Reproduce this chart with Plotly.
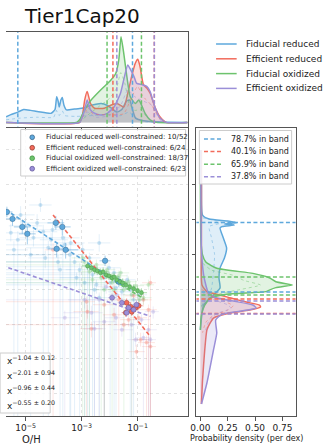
import plotly.graph_objects as go

# ------------------------------------------------------------------ data
models = ["Fiducial reduced", "Efficient reduced", "Fiducial oxidized", "Efficient oxidized"]
colors = ["#5ea8dc", "#f26b5b", "#6dc36d", "#9b8fd8"]
edge_colors = ["#2c5a80", "#8a3226", "#3f8f3f", "#574c93"]

wc_counts = [10, 6, 18, 6]
total_counts = [52, 24, 37, 23]
band_pct = [78.7, 40.1, 65.9, 37.8]

# power-law fits: log10(y) = icpt + slope * log10(O/H)
fit_slope = [-1.04, -2.01, -0.96, -0.55]
fit_slope_err = [0.12, 0.94, 0.44, 0.20]
fit_icpt = [-9.38, -11.81, -9.29, -9.856]
fit_lx_range = [(-6.5, -1.5), (-4.02, -0.54), (-2.79, -0.79), (-6.5, -0.54)]

# band edges (log10 O/H for top panel, log10 y for side panel)
oh_band_lo = [-5.28, -1.88, -2.09, -1.74]
oh_band_hi = [-1.18, -0.40, -0.86, -0.40]
y_band_top = [-4.17, -8.56, -7.30, -8.68]
y_band_bottom = [-8.16, -9.40, -8.33, -9.43]

# points: (log10 O/H, log10 y, err_x_lo, err_x_hi, err_y_lo, err_y_hi) in dex
blue_wc = [(-5.67, -3.56, 0.2, 0.2, 0.3, 0.3), (-5.47, -3.96, 0.3, 0.3, 0.4, 0.3),
           (-5.12, -4.42, 0.3, 0.3, 0.4, 0.4), (-4.94, -4.82, 0.3, 0.3, 0.6, 0.4),
           (-3.92, -4.19, 0.3, 0.3, 0.4, 0.4), (-3.69, -4.42, 0.3, 0.3, 0.5, 0.4),
           (-3.89, -5.68, 0.3, 0.3, 0.5, 0.4), (-3.57, -5.74, 0.45, 0.45, 0.5, 0.4),
           (-2.16, -6.37, 0.2, 0.2, 0.3, 0.3), (-1.67, -7.57, 0.2, 0.2, 0.3, 0.3)]
blue_faint = [(-4.59, -4.19, 0.5, 0.5, 0.5, 0.5), (-4.19, -5.62, 0.8, 0.6, 12, 0.4),
              (-2.37, -5.34, 0.4, 0.4, 0.5, 0.5), (-2.37, -8.49, 0.3, 0.3, 12, 0.3),
              (-2.79, -6.71, 8, 0.3, 12, 0.3), (-3.25, -6.43, 8, 0.4, 12, 0.3),
              (-3.07, -6.88, 0.5, 0.4, 12, 0.4), (-3.42, -6.02, 8, 0.5, 12, 0.4),
              (-2.61, -7.17, 8, 0.4, 12, 0.3), (-3.60, -5.45, 8, 0.6, 0.5, 0.5),
              (-5.53, -4.76, 0.6, 0.6, 0.5, 0.5), (-5.28, -5.16, 0.5, 0.5, 12, 0.5),
              (-4.72, -5.05, 0.5, 0.7, 0.5, 0.5), (-4.37, -4.70, 0.5, 0.5, 12, 0.4),
              (-4.09, -5.16, 0.4, 0.6, 0.6, 0.4), (-2.19, -7.34, 8, 0.3, 12, 0.3),
              (-1.98, -7.63, 8, 0.4, 12, 0.3), (-1.77, -7.92, 0.5, 0.4, 12, 0.3),
              (-1.56, -8.15, 0.5, 0.4, 0.5, 0.3), (-2.47, -7.75, 8, 0.4, 0.5, 0.3),
              (-2.89, -7.63, 0.6, 0.5, 12, 0.3), (-3.18, -7.34, 0.6, 0.5, 0.5, 0.3),
              (-1.14, -8.61, 0.4, 0.4, 12, 0.3), (-5.00, -4.36, 0.6, 0.6, 0.6, 0.6),
              (-4.47, -3.16, 0.4, 0.4, 0.4, 0.4), (-3.67, -5.05, 0.6, 0.6, 12, 0.4),
              (-3.84, -6.43, 8, 0.4, 0.5, 0.4), (-5.42, -5.74, 0.5, 0.5, 12, 0.5),
              (-4.82, -6.02, 8, 0.5, 12, 0.4), (-4.30, -6.20, 0.6, 0.6, 0.6, 0.4),
              (-3.39, -5.34, 0.5, 0.5, 12, 0.4), (-2.96, -5.74, 0.5, 0.4, 0.5, 0.4),
              (-2.72, -6.20, 0.4, 0.4, 12, 0.3), (-2.02, -6.77, 0.4, 0.4, 0.4, 0.3),
              (-1.84, -7.06, 8, 0.3, 12, 0.3), (-1.37, -7.46, 0.4, 0.3, 0.4, 0.3),
              (-1.26, -8.03, 0.3, 0.3, 12, 0.3), (-0.96, -8.32, 0.3, 0.3, 0.4, 0.3),
              (-5.18, -3.73, 0.5, 0.5, 0.5, 0.5), (-4.04, -4.59, 0.5, 0.5, 0.5, 0.5),
              (-3.77, -6.88, 8, 0.4, 12, 0.3), (-2.54, -8.03, 0.5, 0.4, 12, 0.3)]

red_wc = [(-1.39, -8.78, 0.15, 0.15, 0.25, 0.25), (-1.25, -9.01, 0.15, 0.15, 0.25, 0.25),
          (-1.07, -9.06, 0.15, 0.15, 0.25, 0.25), (-0.96, -8.95, 0.15, 0.15, 0.25, 0.25),
          (-1.42, -9.35, 0.15, 0.15, 0.25, 0.25), (-1.21, -9.29, 0.15, 0.15, 0.25, 0.25)]
red_faint = [(-0.54, -7.63, 0.3, 0.2, 12, 0.4), (-2.79, -9.29, 0.5, 0.4, 0.4, 0.4),
             (-2.82, -8.72, 8, 0.3, 12, 0.3), (-2.65, -10.27, 0.4, 0.4, 0.5, 0.4),
             (-1.04, -11.59, 0.3, 0.3, 0.4, 0.4), (-0.68, -11.07, 0.3, 0.3, 12, 0.4),
             (-0.54, -11.30, 0.3, 0.2, 12, 0.4), (-0.79, -8.61, 0.3, 0.3, 0.4, 0.4),
             (-1.67, -8.61, 0.4, 0.3, 12, 0.3), (-0.96, -9.64, 0.3, 0.3, 0.4, 0.4),
             (-1.32, -9.75, 0.3, 0.3, 0.4, 0.3), (-0.61, -9.18, 0.3, 0.3, 12, 0.3),
             (-1.14, -8.38, 0.3, 0.3, 0.3, 0.3), (-1.84, -9.47, 0.4, 0.3, 0.4, 0.4),
             (-2.19, -8.89, 0.4, 0.4, 12, 0.3), (-4.02, -5.74, 0.3, 0.4, 12, 0.4),
             (-1.49, -10.04, 8, 0.3, 0.4, 0.3), (-0.89, -10.90, 0.3, 0.3, 0.4, 0.4)]

green_wc = [(-2.79, -6.66, 0.2, 0.2, 0.25, 0.25), (-2.65, -6.77, 0.2, 0.2, 0.25, 0.25),
            (-2.54, -6.88, 0.2, 0.2, 0.25, 0.25), (-2.44, -6.94, 0.2, 0.2, 0.25, 0.25),
            (-2.33, -7.06, 0.2, 0.2, 0.25, 0.25), (-2.23, -7.00, 0.2, 0.2, 0.25, 0.25),
            (-2.12, -7.17, 0.2, 0.2, 0.25, 0.25), (-2.02, -7.23, 0.2, 0.2, 0.25, 0.25),
            (-1.91, -7.34, 0.2, 0.2, 0.25, 0.25), (-1.84, -7.29, 0.2, 0.2, 0.25, 0.25),
            (-1.74, -7.46, 0.2, 0.2, 0.25, 0.25), (-1.63, -7.57, 0.2, 0.2, 0.25, 0.25),
            (-1.53, -7.63, 0.2, 0.2, 0.25, 0.25), (-1.42, -7.75, 0.2, 0.2, 0.25, 0.25),
            (-1.28, -7.86, 0.2, 0.2, 0.25, 0.25), (-1.14, -7.97, 0.2, 0.2, 0.25, 0.25),
            (-1.00, -8.09, 0.2, 0.2, 0.25, 0.25), (-0.86, -8.20, 0.2, 0.2, 0.25, 0.25)]
green_faint = [(-2.89, -6.43, 8, 0.3, 12, 0.3), (-2.72, -7.00, 0.4, 0.4, 12, 0.3),
               (-2.47, -6.60, 8, 0.3, 0.4, 0.3), (-2.30, -7.34, 0.4, 0.3, 12, 0.3),
               (-2.09, -6.88, 0.3, 0.3, 0.4, 0.3), (-1.91, -7.63, 8, 0.3, 12, 0.3),
               (-1.67, -7.23, 0.3, 0.3, 0.4, 0.3), (-1.49, -8.03, 0.3, 0.3, 12, 0.3),
               (-1.32, -7.57, 0.3, 0.3, 0.4, 0.3), (-1.07, -7.80, 0.3, 0.3, 0.3, 0.3),
               (-0.79, -8.49, 0.3, 0.3, 0.4, 0.3), (-0.61, -7.75, 0.3, 0.2, 0.3, 0.3),
               (-2.19, -8.03, 0.4, 0.4, 12, 0.3), (-2.61, -7.46, 8, 0.4, 0.5, 0.3),
               (-1.84, -8.03, 0.3, 0.3, 0.4, 0.3), (-2.96, -6.20, 0.4, 0.3, 12, 0.3),
               (-0.93, -8.61, 0.3, 0.3, 0.4, 0.3), (-1.21, -8.32, 0.3, 0.3, 12, 0.3),
               (-1.60, -7.06, 0.3, 0.3, 0.3, 0.3)]

purple_wc = [(-1.91, -8.49, 0.15, 0.15, 0.25, 0.25), (-1.56, -8.78, 0.15, 0.15, 0.25, 0.25),
             (-1.32, -9.06, 0.15, 0.15, 0.25, 0.25), (-1.39, -9.35, 0.15, 0.15, 0.25, 0.25),
             (-1.14, -9.18, 0.15, 0.15, 0.25, 0.25), (-1.04, -8.89, 0.15, 0.15, 0.25, 0.25)]
purple_faint = [(-2.54, -10.27, 0.4, 0.4, 12, 0.4), (-2.65, -9.35, 1.0, 0.4, 0.4, 0.4),
                (-0.79, -10.79, 0.3, 0.3, 12, 0.3), (-1.07, -10.90, 0.3, 0.4, 0.4, 0.4),
                (-0.54, -10.90, 0.3, 0.2, 12, 0.3), (-2.12, -7.86, 0.3, 0.3, 0.4, 0.4),
                (-2.37, -8.61, 8, 0.3, 12, 0.3), (-1.77, -9.64, 0.4, 0.3, 0.4, 0.3),
                (-1.21, -10.04, 0.3, 0.3, 12, 0.3), (-0.61, -10.33, 0.3, 0.3, 12, 0.3),
                (-0.86, -9.75, 0.3, 0.3, 0.4, 0.3), (-1.56, -10.33, 0.3, 0.4, 0.4, 0.4),
                (-2.19, -9.87, 0.4, 0.4, 12, 0.4), (-0.44, -9.29, 0.3, 0.2, 0.4, 0.3),
                (-2.89, -8.61, 0.6, 0.5, 0.5, 0.4), (-3.60, -9.64, 0.5, 0.5, 12, 0.4),
                (-1.74, -8.32, 0.3, 0.3, 0.3, 0.3)]

wc_points = [blue_wc, red_wc, green_wc, purple_wc]
faint_points = [blue_faint, red_faint, green_faint, purple_faint]

# marginal density of log10(O/H) (per dex)
blue_oh_lx = [-5.70, -5.53, -5.28, -5.07, -4.82, -4.54, -4.09, -3.95, -3.89, -3.84, -3.80, -3.74,
              -3.69, -3.63, -3.54, -3.25, -3.00, -2.65, -2.30, -2.09, -1.91, -1.74, -1.56, -1.39,
              -1.28, -1.18, -1.07, -0.79, -0.09, 0.79]
blue_oh_d = [0.066, 0.09, 0.12, 0.15, 0.14, 0.125, 0.106, 0.15, 0.30, 0.25, 0.18, 0.26,
             0.29, 0.20, 0.145, 0.155, 0.164, 0.20, 0.22, 0.20, 0.16, 0.12, 0.15, 0.25,
             0.26, 0.15, 0.05, 0.02, 0.005, 0.0]
red_oh_lx = [-5.70, -3.07, -2.96, -2.89, -2.80, -2.68, -2.54, -2.19, -1.96, -1.73, -1.49, -1.32,
             -1.20, -1.08, -0.99, -0.91, -0.79, -0.67, -0.55, -0.38, -0.20, 0.02, 0.79]
red_oh_d = [0.0, 0.0, 0.10, 0.26, 0.36, 0.22, 0.165, 0.165, 0.20, 0.22, 0.18, 0.38,
            0.55, 0.69, 0.735, 0.65, 0.44, 0.40, 0.34, 0.18, 0.066, 0.0, 0.0]
green_oh_lx = [-5.70, -3.18, -3.07, -2.89, -2.66, -2.31, -1.96, -1.78, -1.67, -1.59, -1.49, -1.38,
               -1.26, -1.08, -0.96, -0.88, -0.73, -0.55, -0.33, 0.79]
green_oh_d = [0.0, 0.0, 0.03, 0.145, 0.26, 0.38, 0.49, 0.57, 0.73, 1.0, 0.80, 0.53,
              0.30, 0.22, 0.26, 0.22, 0.106, 0.03, 0.0, 0.0]
purple_oh_lx = [-5.70, -3.07, -2.96, -2.89, -2.80, -2.68, -2.54, -2.31, -2.08, -1.84, -1.61, -1.47,
                -1.35, -1.24, -1.12, -1.03, -0.85, -0.67, -0.55, -0.38, -0.20, 0.02, 0.79]
purple_oh_d = [0.0, 0.0, 0.08, 0.145, 0.26, 0.145, 0.106, 0.086, 0.106, 0.18, 0.34, 0.53,
               0.67, 0.61, 0.53, 0.455, 0.44, 0.42, 0.36, 0.18, 0.05, 0.0, 0.0]
oh_lx = [blue_oh_lx, red_oh_lx, green_oh_lx, purple_oh_lx]
oh_d = [blue_oh_d, red_oh_d, green_oh_d, purple_oh_d]

# well-constrained-only density of log10(O/H)
blue_oh_wc_lx = [-5.70, -5.2, -4.6, -4.0, -3.9, -3.85, -3.8, -3.72, -3.68, -3.6, -3.2, -2.6,
                 -2.1, -1.6, -1.3, -1.1, -0.8, 0.0]
blue_oh_wc_d = [0.03, 0.05, 0.06, 0.06, 0.14, 0.10, 0.08, 0.12, 0.13, 0.08, 0.07, 0.08,
                0.09, 0.08, 0.12, 0.06, 0.01, 0.0]
red_oh_wc_lx = [-3.1, -2.85, -2.8, -2.6, -2.0, -1.5, -1.2, -1.0, -0.8, -0.5, -0.2, 0.0]
red_oh_wc_d = [0.0, 0.12, 0.18, 0.10, 0.09, 0.10, 0.30, 0.42, 0.30, 0.20, 0.04, 0.0]
green_oh_wc_lx = [-3.1, -2.8, -2.4, -2.0, -1.75, -1.6, -1.45, -1.3, -1.1, -0.9, -0.6, -0.35]
green_oh_wc_d = [0.0, 0.08, 0.18, 0.28, 0.40, 0.58, 0.45, 0.22, 0.14, 0.15, 0.04, 0.0]
purple_oh_wc_lx = [-3.1, -2.8, -2.5, -2.0, -1.6, -1.35, -1.1, -0.8, -0.5, -0.2, 0.0]
purple_oh_wc_d = [0.0, 0.12, 0.06, 0.08, 0.20, 0.38, 0.30, 0.25, 0.20, 0.03, 0.0]
oh_wc_lx = [blue_oh_wc_lx, red_oh_wc_lx, green_oh_wc_lx, purple_oh_wc_lx]
oh_wc_d = [blue_oh_wc_d, red_oh_wc_d, green_oh_wc_d, purple_oh_wc_d]

# marginal density of log10(y) (per dex)
blue_y_ly = [0.0, -2.01, -3.74, -3.97, -4.08, -4.18, -4.25, -4.31, -4.40, -4.48, -5.06, -5.63,
             -6.21, -6.78, -7.36, -7.93, -8.33, -8.91, -9.66, -10.34]
blue_y_d = [0.005, 0.01, 0.02, 0.08, 0.25, 0.33, 0.22, 0.31, 0.20, 0.18, 0.21, 0.24,
            0.22, 0.18, 0.17, 0.18, 0.12, 0.03, 0.01, 0.0]
red_y_ly = [0.0, -2.87, -5.75, -7.76, -8.14, -8.33, -8.51, -8.74, -8.91, -9.02, -9.20, -9.37,
            -9.66, -9.94, -10.34, -11.49, -13.22, -14.60]
red_y_d = [0.01, 0.01, 0.01, 0.015, 0.06, 0.18, 0.28, 0.42, 0.54, 0.55, 0.45, 0.27,
           0.12, 0.09, 0.06, 0.04, 0.02, 0.01]
green_y_ly = [0.0, -5.17, -6.03, -6.44, -6.80, -7.09, -7.34, -7.57, -7.76, -7.91, -8.05, -8.14,
              -8.29, -8.52, -8.91, -9.48, -10.34]
green_y_d = [0.0, 0.005, 0.02, 0.05, 0.15, 0.48, 0.63, 0.69, 0.84, 0.69, 0.63, 0.60,
             0.24, 0.09, 0.04, 0.01, 0.0]
purple_y_ly = [0.0, -5.75, -7.18, -7.76, -8.16, -8.45, -8.68, -8.91, -9.08, -9.25, -9.43, -9.77,
               -10.52, -11.49, -13.39, -14.60]
purple_y_d = [0.005, 0.01, 0.03, 0.05, 0.07, 0.12, 0.30, 0.48, 0.51, 0.38, 0.20, 0.14,
              0.15, 0.12, 0.06, 0.01]
y_ly = [blue_y_ly, red_y_ly, green_y_ly, purple_y_ly]
y_d = [blue_y_d, red_y_d, green_y_d, purple_y_d]

blue_y_wc_ly = [-3.9, -4.18, -4.4, -5.0, -6.0, -7.0, -8.0, -8.5, -9.0]
blue_y_wc_d = [0.02, 0.20, 0.08, 0.10, 0.13, 0.12, 0.10, 0.05, 0.01]
red_y_wc_ly = [-8.0, -8.4, -8.7, -8.95, -9.2, -9.5, -9.9, -10.5]
red_y_wc_d = [0.01, 0.10, 0.22, 0.30, 0.25, 0.12, 0.05, 0.02]
green_y_wc_ly = [-6.5, -6.9, -7.2, -7.5, -7.76, -8.0, -8.3, -8.6, -9.0]
green_y_wc_d = [0.02, 0.10, 0.30, 0.40, 0.55, 0.38, 0.15, 0.05, 0.01]
purple_y_wc_ly = [-8.2, -8.6, -8.9, -9.1, -9.4, -9.8, -10.5]
purple_y_wc_d = [0.02, 0.12, 0.25, 0.28, 0.15, 0.08, 0.04]
y_wc_ly = [blue_y_wc_ly, red_y_wc_ly, green_y_wc_ly, purple_y_wc_ly]
y_wc_d = [blue_y_wc_d, red_y_wc_d, green_y_wc_d, purple_y_wc_d]

x_tick_vals = [1e-5, 1e-3, 1e-1]
x_tick_text = ["10<sup>\u22125</sup>", "10<sup>\u22123</sup>", "10<sup>\u22121</sup>"]
dens_tick_vals = [0.0, 0.25, 0.5, 0.75]

# ------------------------------------------------------------------ layout helpers
W, H = 325, 445
FONT = "DejaVu Sans"
FRAME = "#555555"
GRID = "#e2e2e2"


def px(v):
    return v / W


def py(v):
    return 1 - v / H


def rgba(hex_color, a):
    h = hex_color.lstrip("#")
    r, g, b = int(h[0:2], 16), int(h[2:4], 16), int(h[4:6], 16)
    return f"rgba({r},{g},{b},{a})"


def error_segments(points):
    xs, ys = [], []
    for lx, ly, exl, exh, eyl, eyh in points:
        xs += [10 ** (lx - exl), 10 ** (lx + exh), None, 10 ** lx, 10 ** lx, None]
        ys += [10 ** ly, 10 ** ly, None, 10 ** (ly - eyl), 10 ** (ly + eyh), None]
    return xs, ys


fig = go.Figure()

# ------------------------------------------------------------------ main scatter
for i in range(4):
    ex, ey = error_segments(faint_points[i])
    fig.add_trace(go.Scatter(x=ex, y=ey, mode="lines", xaxis="x", yaxis="y",
                             line=dict(color=rgba(colors[i], 0.17), width=1),
                             hoverinfo="skip", showlegend=False))
for i in range(4):
    pts = faint_points[i]
    fig.add_trace(go.Scatter(x=[10 ** p[0] for p in pts], y=[10 ** p[1] for p in pts],
                             mode="markers", xaxis="x", yaxis="y",
                             marker=dict(color=rgba(colors[i], 0.3), size=4, line=dict(width=0)),
                             showlegend=False))

for i in range(4):
    ex, ey = error_segments(wc_points[i])
    fig.add_trace(go.Scatter(x=ex, y=ey, mode="lines", xaxis="x", yaxis="y",
                             line=dict(color=rgba(colors[i], 0.55), width=1),
                             hoverinfo="skip", showlegend=False))

# power-law fits
for i in range(4):
    lx0, lx1 = fit_lx_range[i]
    fx = [10 ** lx0, 10 ** lx1]
    fy = [10 ** (fit_icpt[i] + fit_slope[i] * lx0), 10 ** (fit_icpt[i] + fit_slope[i] * lx1)]
    fig.add_trace(go.Scatter(x=fx, y=fy, mode="lines", xaxis="x", yaxis="y",
                             line=dict(color=colors[i], width=1.6, dash="4px,2.5px"),
                             showlegend=False))

wc_sizes = [5.5, 5, 4, 5]
for i in range(4):
    pts = wc_points[i]
    fig.add_trace(go.Scatter(x=[10 ** p[0] for p in pts], y=[10 ** p[1] for p in pts],
                             mode="markers", xaxis="x", yaxis="y",
                             marker=dict(color=colors[i], size=wc_sizes[i],
                                         line=dict(color=edge_colors[i], width=0.4)),
                             showlegend=False))

# ------------------------------------------------------------------ top marginal (O/H)
for i in range(4):
    fig.add_trace(go.Scatter(x=[10 ** v for v in oh_lx[i]], y=oh_d[i], mode="lines",
                             xaxis="x2", yaxis="y2", fill="tozeroy",
                             fillcolor=rgba(colors[i], 0.2),
                             line=dict(color=colors[i], width=1.5, shape="spline", smoothing=0.5),
                             showlegend=False))
for i in range(4):
    fig.add_trace(go.Scatter(x=[10 ** v for v in oh_wc_lx[i]], y=oh_wc_d[i], mode="lines",
                             xaxis="x2", yaxis="y2",
                             line=dict(color=rgba(colors[i], 0.6), width=0.8, dash="dot",
                                       shape="spline", smoothing=0.5),
                             showlegend=False))
for i in range(4):
    for edge in (oh_band_lo[i], oh_band_hi[i]):
        fig.add_trace(go.Scatter(x=[10 ** edge, 10 ** edge], y=[-1, 2], mode="lines",
                                 xaxis="x2", yaxis="y2",
                                 line=dict(color=colors[i], width=1.5, dash="4px,2.5px"),
                                 showlegend=False))

# ------------------------------------------------------------------ side marginal (y)
for i in range(4):
    fig.add_trace(go.Scatter(x=y_d[i], y=[10 ** v for v in y_ly[i]], mode="lines",
                             xaxis="x3", yaxis="y3", fill="tozerox",
                             fillcolor=rgba(colors[i], 0.2),
                             line=dict(color=colors[i], width=1.5, shape="spline", smoothing=0.5),
                             showlegend=False))
for i in range(4):
    fig.add_trace(go.Scatter(x=y_wc_d[i], y=[10 ** v for v in y_wc_ly[i]], mode="lines",
                             xaxis="x3", yaxis="y3",
                             line=dict(color=rgba(colors[i], 0.6), width=0.8, dash="dot",
                                       shape="spline", smoothing=0.5),
                             showlegend=False))
for i in range(4):
    for edge in (y_band_top[i], y_band_bottom[i]):
        fig.add_trace(go.Scatter(x=[-1, 2], y=[10 ** edge, 10 ** edge], mode="lines",
                                 xaxis="x3", yaxis="y3",
                                 line=dict(color=colors[i], width=1.5, dash="4px,2.5px"),
                                 showlegend=False))

# ------------------------------------------------------------------ axes
main_dom_x = [0, px(185)]
main_dom_y = [py(416), py(128)]
y_range = [-15.287, 1.264]
x_range = [-5.702, 0.789]

common = dict(showline=True, linecolor=FRAME, linewidth=1, zeroline=False,
              tickcolor=FRAME, ticklen=3.5, tickwidth=1,
              tickfont=dict(family=FONT, size=9, color="#222"))

fig.update_layout(
    width=W, height=H, margin=dict(l=0, r=0, t=0, b=0),
    paper_bgcolor="white", plot_bgcolor="white", showlegend=False,
    font=dict(family=FONT, color="#222"),
    xaxis=dict(domain=main_dom_x, type="log", range=x_range, anchor="y",
               tickvals=x_tick_vals, ticktext=x_tick_text, ticks="outside", mirror=True,
               showgrid=True, gridcolor=GRID, griddash="dot", gridwidth=1, **common),
    yaxis=dict(domain=main_dom_y, type="log", range=y_range, anchor="x", side="right",
               tick0=0, dtick=2, ticks="", showticklabels=False,
               showgrid=True, gridcolor=GRID, griddash="dot", gridwidth=1, **common),
    xaxis2=dict(domain=main_dom_x, type="log", range=x_range, anchor="y2",
                tickvals=x_tick_vals, ticks="outside", showticklabels=False, mirror=True,
                showgrid=False, **common),
    yaxis2=dict(domain=[py(126.5), py(32)], range=[-0.048, 1.054], anchor="x2", side="right",
                ticks="", showticklabels=False, showgrid=False, **common),
    xaxis3=dict(domain=[px(194), px(295)], range=[-0.036, 0.87], anchor="y3",
                tickvals=dens_tick_vals, ticktext=[f"{v:.2f}" for v in dens_tick_vals],
                ticks="outside", mirror=True, showgrid=False, **common),
    yaxis3=dict(domain=main_dom_y, type="log", range=y_range, anchor="x3",
                tick0=0, dtick=2, ticks="outside", showticklabels=False, mirror=True,
                showgrid=False, **common),
)

# ------------------------------------------------------------------ text and legends
ann = []
shapes = []

ann.append(dict(text="Tier1Cap20", x=px(77.5), y=py(16), xref="paper", yref="paper",
                showarrow=False, xanchor="center", yanchor="middle",
                font=dict(family=FONT, size=20, color="#111")))
ann.append(dict(text="O/H", x=px(26), y=py(439), xref="paper", yref="paper",
                showarrow=False, xanchor="center", yanchor="middle",
                font=dict(family=FONT, size=10, color="#222")))
ann.append(dict(text="Probability density (per dex)", x=px(245), y=py(438.5), xref="paper",
                yref="paper", showarrow=False, xanchor="center", yanchor="middle",
                font=dict(family=FONT, size=8, color="#222")))

# model legend (top right)
for i, name in enumerate(models):
    yy = 44 + 14.8 * i
    shapes.append(dict(type="line", xref="paper", yref="paper", x0=px(214), x1=px(235),
                       y0=py(yy), y1=py(yy), line=dict(color=colors[i], width=1.5)))
    ann.append(dict(text=name, x=px(242), y=py(yy), xref="paper", yref="paper",
                    showarrow=False, xanchor="left", yanchor="middle",
                    font=dict(family=FONT, size=9, color="#222")))

# well-constrained legend
shapes.append(dict(type="rect", xref="paper", yref="paper", x0=px(15), x1=px(183),
                   y0=py(176), y1=py(129.5), fillcolor="rgba(255,255,255,0.85)",
                   line=dict(color="#cccccc", width=1)))
for i, name in enumerate(models):
    yy = 137.3 + 10.47 * i
    shapes.append(dict(type="circle", xref="paper", yref="paper",
                       x0=px(24.3), x1=px(29.1), y0=py(yy + 2.4), y1=py(yy - 2.4),
                       fillcolor=colors[i], line=dict(color=edge_colors[i], width=0.7)))
    ann.append(dict(text=f"{name} well-constrained: {wc_counts[i]}/{total_counts[i]}",
                    x=px(38.3), y=py(yy), xref="paper", yref="paper", showarrow=False,
                    xanchor="left", yanchor="middle",
                    font=dict(family=FONT, size=7, color="#222")))

# band legend (side panel)
shapes.append(dict(type="rect", xref="paper", yref="paper", x0=px(197), x1=px(291),
                   y0=py(184), y1=py(130.5), fillcolor="rgba(255,255,255,0.85)",
                   line=dict(color="#cccccc", width=1)))
for i in range(4):
    yy = 139 + 12.6 * i
    shapes.append(dict(type="line", xref="paper", yref="paper", x0=px(201.7), x1=px(220),
                       y0=py(yy), y1=py(yy),
                       line=dict(color=colors[i], width=1.5, dash="4px,2.5px")))
    ann.append(dict(text=f"{band_pct[i]:.1f}% in band", x=px(226.7), y=py(yy),
                    xref="paper", yref="paper", showarrow=False, xanchor="left",
                    yanchor="middle", font=dict(family=FONT, size=8, color="#222")))

# fit legend (lower left)
shapes.append(dict(type="rect", xref="paper", yref="paper", x0=px(-6), x1=px(45),
                   y0=py(413), y1=py(353), fillcolor="rgba(255,255,255,0.85)",
                   line=dict(color="#cccccc", width=1)))
for i in range(4):
    yy = 359 + 14.9 * i
    s = f"{abs(fit_slope[i]):.2f}"
    e = f"{fit_slope_err[i]:.2f}"
    ann.append(dict(text=f"x<sup>\u2212{s} \u00b1 {e}</sup>", x=px(-1.2), y=py(yy + 1),
                    xref="paper", yref="paper", showarrow=False, xanchor="left",
                    yanchor="middle", font=dict(family=FONT, size=9, color="#222")))

fig.update_layout(annotations=ann, shapes=shapes)

fig.write_html("out.html")
